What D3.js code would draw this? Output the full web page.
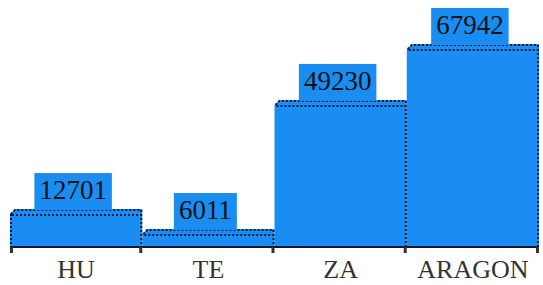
<!DOCTYPE html>
<html>
<head>
<meta charset="utf-8">
<script src="https://cdn.jsdelivr.net/npm/d3@7"></script>
<style>
  body { margin: 0; background: #fff; }
</style>
</head>
<body>
<div class="area"></div>
<script>
const width = 543
const height = 285
const barColor = "#1a8df2"
const lineColor = "#0b1836"
const serif = "Liberation Serif, DejaVu Serif, serif"

const regions = ["HU", "TE", "ZA", "ARAGON"]
const values = [12701, 6011, 49230, 67942]
const labels = ["12701", "6011", "49230", "67942"]

const svg = d3.select(".area")
  .append("svg")
  .attr("width", width)
  .attr("height", height)
  .attr("viewBox", [0, 0, width, height])

const x = d3.scaleBand()
  .domain(regions)
  .range([10, 539])
  .padding(0)

const y = d3.scaleLinear()
  .domain([0, 67942])
  .range([247, 44])

const bev = 5
const data = regions.map((r, i) => ({ r, v: values[i], t: labels[i] }))

const barLayer = svg.append("g")
const lineLayer = svg.append("g")
const labelLayer = svg.append("g")

// bars with a bevelled top-left corner
barLayer.selectAll("path")
  .data(data)
  .join("path")
  .attr("fill", barColor)
  .attr("d", d => {
    const x0 = x(d.r), x1 = x(d.r) + x.bandwidth(), t = y(d.v)
    return `M${x0},${y(0)}V${t + bev}L${x0 + bev},${t}H${x1}V${y(0)}Z`
  })

const dotted = sel => sel
  .attr("stroke", lineColor)
  .attr("stroke-width", 2)
  .attr("stroke-dasharray", "2,2")
  .attr("fill", "none")

// top edge and inner top line
lineLayer.selectAll(".top")
  .data(data)
  .join("path")
  .attr("class", "top")
  .call(dotted)
  .attr("d", d => {
    const x0 = x(d.r), x1 = x(d.r) + x.bandwidth(), t = y(d.v)
    return `M${x0 + 1},${t + bev}L${x0 + bev},${t + 1}H${x1 - 1}`
  })

lineLayer.selectAll(".inner")
  .data(data)
  .join("line")
  .attr("class", "inner")
  .call(dotted)
  .attr("x1", d => x(d.r) + 2)
  .attr("x2", d => x(d.r) + x.bandwidth() - 1)
  .attr("y1", d => y(d.v) + 6)
  .attr("y2", d => y(d.v) + 6)

// vertical sides
lineLayer.selectAll(".side")
  .data(data)
  .join("line")
  .attr("class", "side")
  .call(dotted)
  .attr("x1", d => x(d.r) + x.bandwidth() - 1)
  .attr("x2", d => x(d.r) + x.bandwidth() - 1)
  .attr("y1", d => y(d.v) + 1)
  .attr("y2", y(0))

lineLayer.append("line")
  .call(dotted)
  .attr("x1", x(regions[0]) + 1)
  .attr("x2", x(regions[0]) + 1)
  .attr("y1", y(values[0]) + bev)
  .attr("y2", y(0))

// base line with small feet
lineLayer.append("line")
  .attr("x1", x(regions[0]))
  .attr("x2", x(regions[regions.length - 1]) + x.bandwidth())
  .attr("y1", y(0))
  .attr("y2", y(0))
  .attr("stroke", lineColor)
  .attr("stroke-width", 2)

const feet = [x(regions[0]) + 1].concat(regions.map(r => x(r) + x.bandwidth() - 2))
lineLayer.selectAll(".foot")
  .data(feet)
  .join("rect")
  .attr("class", "foot")
  .attr("x", d => d - 1)
  .attr("y", y(0))
  .attr("width", 3)
  .attr("height", 6)
  .attr("fill", "#333")

// value labels in blue boxes
const lab = labelLayer.selectAll("g")
  .data(data)
  .join("g")
  .attr("transform", d => `translate(${x(d.r) + x.bandwidth() / 2 - 3}, ${y(d.v)})`)

lab.append("rect")
  .attr("fill", barColor)

const texts = lab.append("text")
  .attr("text-anchor", "middle")
  .attr("y", -10)
  .style("font-family", serif)
  .style("font-size", "27px")
  .attr("fill", "#111")
  .text(d => d.t)

texts.each(function () {
  const w = this.getComputedTextLength() + 10
  d3.select(this.parentNode).select("rect")
    .attr("x", -w / 2)
    .attr("y", -36)
    .attr("width", w)
    .attr("height", 37)
})

// category axis
const xAxis = svg.append("g")
  .attr("transform", `translate(0, ${y(0)})`)
  .call(d3.axisBottom(x).tickSize(0).tickPadding(0))

xAxis.select(".domain").remove()
xAxis.selectAll("text")
  .attr("dy", 0)
  .attr("y", 31)
  .style("font-family", serif)
  .style("font-size", "26px")
  .attr("fill", "#333")
</script>
</body>
</html>
